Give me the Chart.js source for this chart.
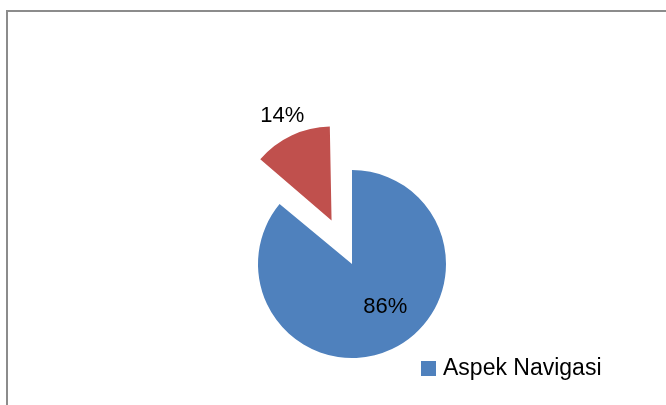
<!DOCTYPE html>
<html>
<head>
<meta charset="utf-8">
<script src="https://cdn.jsdelivr.net/npm/chart.js@4/dist/chart.umd.min.js"></script>
<style>
  body { margin: 0; background: #fff; }
  canvas { display: block; }
</style>
</head>
<body>
<canvas id="chartPie" width="666" height="405"></canvas>
<script>
// values
const categories = ['Aspek Navigasi', ''];
const percents = [86, 14];
const sliceColors = ['#4F81BD', '#C0504D'];
// chart.js moves an arc by offset/4
const explode = [0, 192];

// chart.js also grows an exploded arc by offset*(1-sin(circumference)), undo that
function growth(arc, i) {
  return explode[i] / 4 * (1 - Math.sin(Math.min(Math.PI, arc.circumference)));
}

const trimExploded = {
  id: 'trimExploded',
  afterDatasetsUpdate(chart) {
    chart.getDatasetMeta(0).data.forEach((arc, i) => {
      arc.outerRadius -= growth(arc, i);
    });
  }
};

// frame round the plot + legend + percent labels
const decorations = {
  id: 'decorations',
  beforeDraw(chart) {
    const ctx = chart.ctx;
    ctx.save();
    ctx.strokeStyle = '#8c8c8c';
    ctx.lineWidth = 2;
    ctx.strokeRect(7, 11, 700, 420);
    ctx.restore();
  },
  afterDraw(chart) {
    const ctx = chart.ctx;
    const meta = chart.getDatasetMeta(0);
    ctx.save();
    ctx.fillStyle = '#000';
    ctx.font = '22px "Liberation Sans", Arial, sans-serif';
    ctx.textAlign = 'center';
    ctx.textBaseline = 'middle';
    meta.data.forEach((arc, i) => {
      const p = arc.getProps(['x', 'y', 'startAngle', 'endAngle', 'outerRadius']);
      const mid = (p.startAngle + p.endAngle) / 2;
      const off = explode[i] / 4;
      const r = p.outerRadius + growth(arc, i);
      const cx = p.x + Math.cos(mid) * off;
      const cy = p.y + Math.sin(mid) * off;
      // big slice label inside, small one outside end
      let d = i === 0 ? r * 0.58 : r + 22;
      let x = cx + Math.cos(mid) * d;
      let y = cy + Math.sin(mid) * d;
      if (i === 0) { x += 10; y -= 6; }
      ctx.fillText(percents[i] + '%', x, y);
    });

    // legend, only the first entry is shown
    ctx.font = '23px "Liberation Sans", Arial, sans-serif';
    ctx.textAlign = 'left';
    ctx.fillStyle = sliceColors[0];
    ctx.fillRect(421, 361, 15, 15);
    ctx.fillStyle = '#000';
    ctx.fillText(categories[0], 443, 369);
    ctx.restore();
  }
};

new Chart(document.getElementById('chartPie'), {
  type: 'pie',
  data: {
    labels: categories,
    datasets: [{
      data: percents,
      backgroundColor: sliceColors,
      borderWidth: 0,
      offset: explode,
      radius: 94
    }]
  },
  options: {
    responsive: false,
    animation: false,
    layout: { padding: { left: 234, right: 196, top: 146, bottom: 23 } },
    plugins: {
      legend: { display: false },
      tooltip: { enabled: false }
    }
  },
  plugins: [trimExploded, decorations]
});
</script>
</body>
</html>
